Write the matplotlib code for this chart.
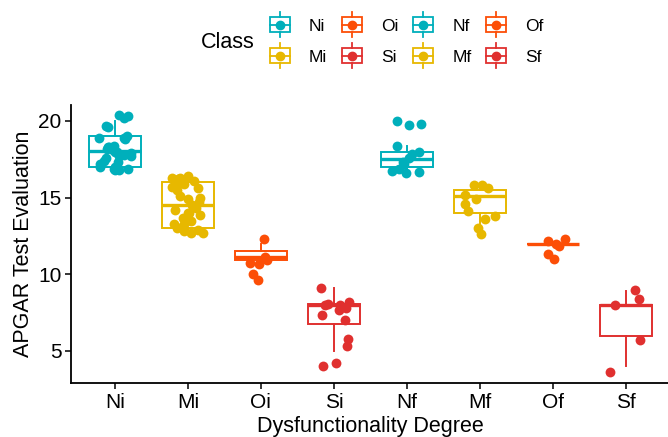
import numpy as np
import matplotlib
matplotlib.use("Agg")
import matplotlib.pyplot as plt
from matplotlib.legend_handler import HandlerBase
from matplotlib.lines import Line2D
from matplotlib.patches import Rectangle

plt.rcParams["font.family"] = ["Liberation Sans", "DejaVu Sans"]

# ------------------------------------------------------------------
# data
# ------------------------------------------------------------------
classes = ["Ni", "Mi", "Oi", "Si", "Nf", "Mf", "Of", "Sf"]

pts_ni = [20.4, 20.3, 20.2, 19.7, 19.6, 19.0, 18.9, 18.8, 18.9, 18.4, 18.3,
          18.3, 18.2, 18.1, 18.0, 18.0, 17.9, 17.8, 17.7, 17.7, 17.6, 17.4,
          17.3, 17.2, 17.0, 17.0, 16.9, 16.9, 16.8, 16.8]
pts_mi = [16.4, 16.3, 16.3, 16.2, 16.1, 16.0, 15.9, 15.7, 15.6, 15.5, 15.1,
          15.0, 14.9, 14.7, 14.5, 14.3, 14.2, 14.0, 14.0, 13.9, 13.7, 13.5,
          13.3, 13.3, 13.1, 13.0, 12.9, 12.8, 12.7, 12.7]
pts_oi = [12.3, 11.1, 10.95, 10.75, 10.7, 10.0, 9.65]
pts_si = [9.1, 8.2, 8.0, 8.0, 8.05, 7.8, 7.65, 7.35, 7.0, 5.8, 5.3, 4.2, 4.0]
pts_nf = [20.0, 19.8, 19.75, 18.4, 17.95, 17.85, 17.6, 17.35, 17.2, 16.9,
          16.75, 16.7, 16.6]
pts_mf = [15.85, 15.85, 15.6, 15.2, 14.9, 14.6, 14.1, 13.8, 13.6, 13.0, 12.6]
pts_of = [12.3, 12.2, 12.0, 11.85, 11.3, 11.0]
pts_sf = [8.95, 8.4, 8.0, 5.7, 3.65]
points = [pts_ni, pts_mi, pts_oi, pts_si, pts_nf, pts_mf, pts_of, pts_sf]

# box statistics
q1 = [17.0, 13.0, 10.95, 6.75, 17.0, 14.0, 12.0, 6.0]
med = [18.05, 14.5, 11.1, 8.0, 17.5, 15.1, 12.0, 8.0]
q3 = [19.0, 16.0, 11.5, 8.05, 18.0, 15.5, 12.0, 8.0]
whislo = [16.8, 12.7, 10.95, 5.0, 16.6, 13.0, 12.0, 4.0]
whishi = [20.0, 16.3, 12.0, 9.1, 18.4, 15.9, 12.0, 8.9]

TEAL, YELLOW, ORANGE, RED = "#00AFBB", "#E7B800", "#FC4E07", "#E0302F"
colors = [TEAL, YELLOW, ORANGE, RED, TEAL, YELLOW, ORANGE, RED]


# ------------------------------------------------------------------
# legend glyph: little boxplot with a point
# ------------------------------------------------------------------
class BoxKeyHandler(HandlerBase):
    def create_artists(self, legend, orig_handle, xdescent, ydescent,
                       width, height, fontsize, trans):
        c = orig_handle.get_color()
        cx = width / 2 - xdescent
        cy = height / 2 - ydescent
        bh = fontsize * 0.86
        wh = fontsize * 0.72
        lw = 1.3
        box = Rectangle((-xdescent, cy - bh / 2), width, bh, fill=False,
                        edgecolor=c, linewidth=lw, transform=trans)
        mline = Line2D([-xdescent, width - xdescent], [cy, cy], color=c,
                       linewidth=lw, transform=trans)
        top = Line2D([cx, cx], [cy + bh / 2, cy + wh], color=c,
                     linewidth=lw, transform=trans)
        bot = Line2D([cx, cx], [cy - bh / 2, cy - wh], color=c,
                     linewidth=lw, transform=trans)
        dot = Line2D([cx], [cy], marker="o", markersize=6, color=c,
                     linestyle="none", transform=trans)
        return [box, mline, top, bot, dot]


fig = plt.figure(figsize=(6.68, 4.37), dpi=100)
ax = fig.add_axes([0.1063, 0.1236, 0.8967, 0.636])

pos = np.arange(1, len(classes) + 1)
stats = []
for i in range(len(classes)):
    stats.append(dict(q1=q1[i], med=med[i], q3=q3[i],
                      whislo=whislo[i], whishi=whishi[i]))

for i in range(len(classes)):
    c = colors[i]
    ax.bxp([stats[i]], positions=[pos[i]], widths=0.72, showfliers=False,
           showcaps=False, patch_artist=True,
           boxprops=dict(facecolor="white", edgecolor=c, linewidth=1.4),
           whiskerprops=dict(color=c, linewidth=1.4),
           medianprops=dict(color=c, linewidth=2.4))

rng = np.random.default_rng(7)
for i, vals in enumerate(points):
    jit = rng.uniform(-0.22, 0.22, len(vals))
    ax.scatter(pos[i] + jit, vals, s=50, color=colors[i], zorder=5,
               linewidths=0)

ax.set_xlim(0.4, 8.6)
ax.set_ylim(2.91, 21.04)
ax.set_xticks(pos)
ax.set_xticklabels(classes)
ax.set_yticks([5, 10, 15, 20])
ax.tick_params(labelsize=15, length=4, width=1.1, color="black",
               labelcolor="black", pad=3)
for s in ["top", "right"]:
    ax.spines[s].set_visible(False)
for s in ["left", "bottom"]:
    ax.spines[s].set_linewidth(1.3)

ax.set_xlabel("Dysfunctionality Degree", fontsize=15.5, labelpad=3)
ax.set_ylabel("APGAR Test Evaluation", fontsize=15.5, labelpad=3)

# legend
handles = [Line2D([], [], color=c) for c in colors]
fig.text(201 / 668, 1 - 42 / 437, "Class", fontsize=15.5, ha="left",
         va="center")
fig.legend(handles, classes, handler_map={Line2D: BoxKeyHandler()},
           ncol=4, frameon=False, fontsize=12.5, loc="center left",
           bbox_to_anchor=(270 / 668, 1 - 41 / 437),
           handlelength=1.15, handleheight=0.9, handletextpad=1.1,
           labelspacing=0.85, columnspacing=0.85, borderpad=0,
           borderaxespad=0)

fig.savefig("out.png", dpi=100)
